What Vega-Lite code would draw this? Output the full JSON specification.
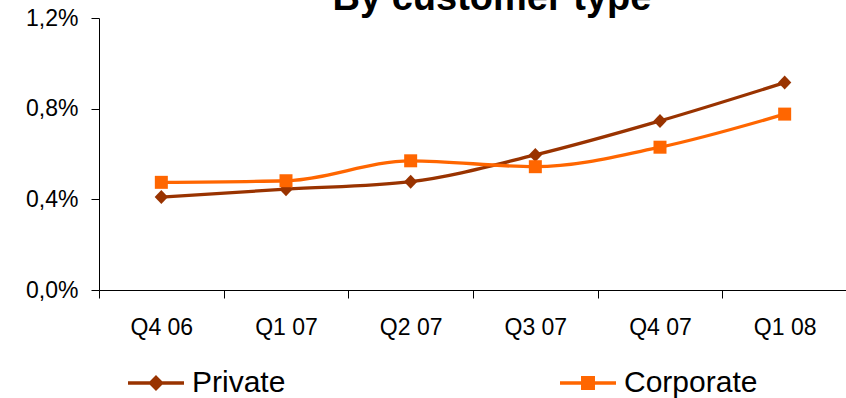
{
  "$schema": "https://vega.github.io/schema/vega-lite/v6.json",
  "width": 748,
  "height": 272,
  "autosize": {"type": "none"},
  "padding": {"left": 99, "top": 18, "right": 0, "bottom": 108},
  "background": "white",
  "config": {"view": {"stroke": null}},
  "title": {
    "text": "By customer type",
    "font": "Liberation Sans",
    "fontSize": 38,
    "fontWeight": "bold",
    "color": "black",
    "anchor": "middle",
    "frame": "group",
    "offset": 0,
    "baseline": "alphabetic",
    "dx": 19,
    "dy": 40.5
  },
  "data": {
    "values": [
      {"quarter": "Q4 06", "type": "Private", "rate": 0.41},
      {"quarter": "Q1 07", "type": "Private", "rate": 0.445},
      {"quarter": "Q2 07", "type": "Private", "rate": 0.478},
      {"quarter": "Q3 07", "type": "Private", "rate": 0.596},
      {"quarter": "Q4 07", "type": "Private", "rate": 0.746},
      {"quarter": "Q1 08", "type": "Private", "rate": 0.915},
      {"quarter": "Q4 06", "type": "Corporate", "rate": 0.475},
      {"quarter": "Q1 07", "type": "Corporate", "rate": 0.482},
      {"quarter": "Q2 07", "type": "Corporate", "rate": 0.57},
      {"quarter": "Q3 07", "type": "Corporate", "rate": 0.544},
      {"quarter": "Q4 07", "type": "Corporate", "rate": 0.63},
      {"quarter": "Q1 08", "type": "Corporate", "rate": 0.776}
    ]
  },
  "encoding": {
    "x": {
      "field": "quarter",
      "type": "ordinal",
      "sort": null,
      "scale": {"type": "band", "paddingInner": 0, "paddingOuter": 0},
      "axis": {
        "title": null,
        "labelAngle": 0,
        "labelFont": "Liberation Sans",
        "labelFontSize": 23,
        "labelColor": "black",
        "labelPadding": 18,
        "tickBand": "extent",
        "tickSize": 8,
        "tickColor": "black",
        "domainColor": "black",
        "grid": false
      }
    },
    "y": {
      "field": "rate",
      "type": "quantitative",
      "scale": {"domain": [0, 1.2], "nice": false},
      "axis": {
        "title": null,
        "values": [0, 0.4, 0.8, 1.2],
        "labelExpr": "replace(format(datum.value, '.1f'), '.', ',') + '%'",
        "labelFont": "Liberation Sans",
        "labelFontSize": 23,
        "labelColor": "black",
        "labelPadding": 13,
        "tickSize": 8,
        "tickColor": "black",
        "domainColor": "black",
        "grid": false
      }
    },
    "color": {
      "field": "type",
      "type": "nominal",
      "sort": ["Private", "Corporate"],
      "scale": {"domain": ["Private", "Corporate"], "range": ["#993300", "#FF6600"]},
      "legend": {
        "orient": "none",
        "legendX": 27,
        "legendY": 335,
        "direction": "horizontal",
        "title": null,
        "padding": 0,
        "symbolSize": 3136,
        "symbolStrokeWidth": 3,
        "labelFont": "Liberation Sans",
        "labelFontSize": 30,
        "labelColor": "black",
        "labelOffset": 6,
        "columnPadding": 267,
        "encode": {
          "symbols": {
            "update": {
              "shape": {"signal": "datum.value === 'Private' ? 'M-1,0H1M0,-0.2L0.2,0L0,0.2L-0.2,0Z' : 'M-1,0H1M-0.19,-0.19H0.19V0.19H-0.19Z'"},
              "fill": {"scale": "color", "field": "value"},
              "stroke": {"scale": "color", "field": "value"},
              "strokeWidth": {"value": 3.3},
              "opacity": {"value": 1}
            }
          }
        }
      }
    }
  },
  "layer": [
    {
      "mark": {"type": "line", "interpolate": "monotone", "strokeWidth": 3.3}
    },
    {
      "transform": [{"filter": "datum.type === 'Private'"}],
      "mark": {"type": "point", "filled": true, "opacity": 1, "size": 196, "shape": "M0,-1L0.95,0L0,1L-0.95,0Z"}
    },
    {
      "transform": [{"filter": "datum.type === 'Corporate'"}],
      "mark": {"type": "point", "filled": true, "opacity": 1, "size": 169, "shape": "square"}
    }
  ]
}
